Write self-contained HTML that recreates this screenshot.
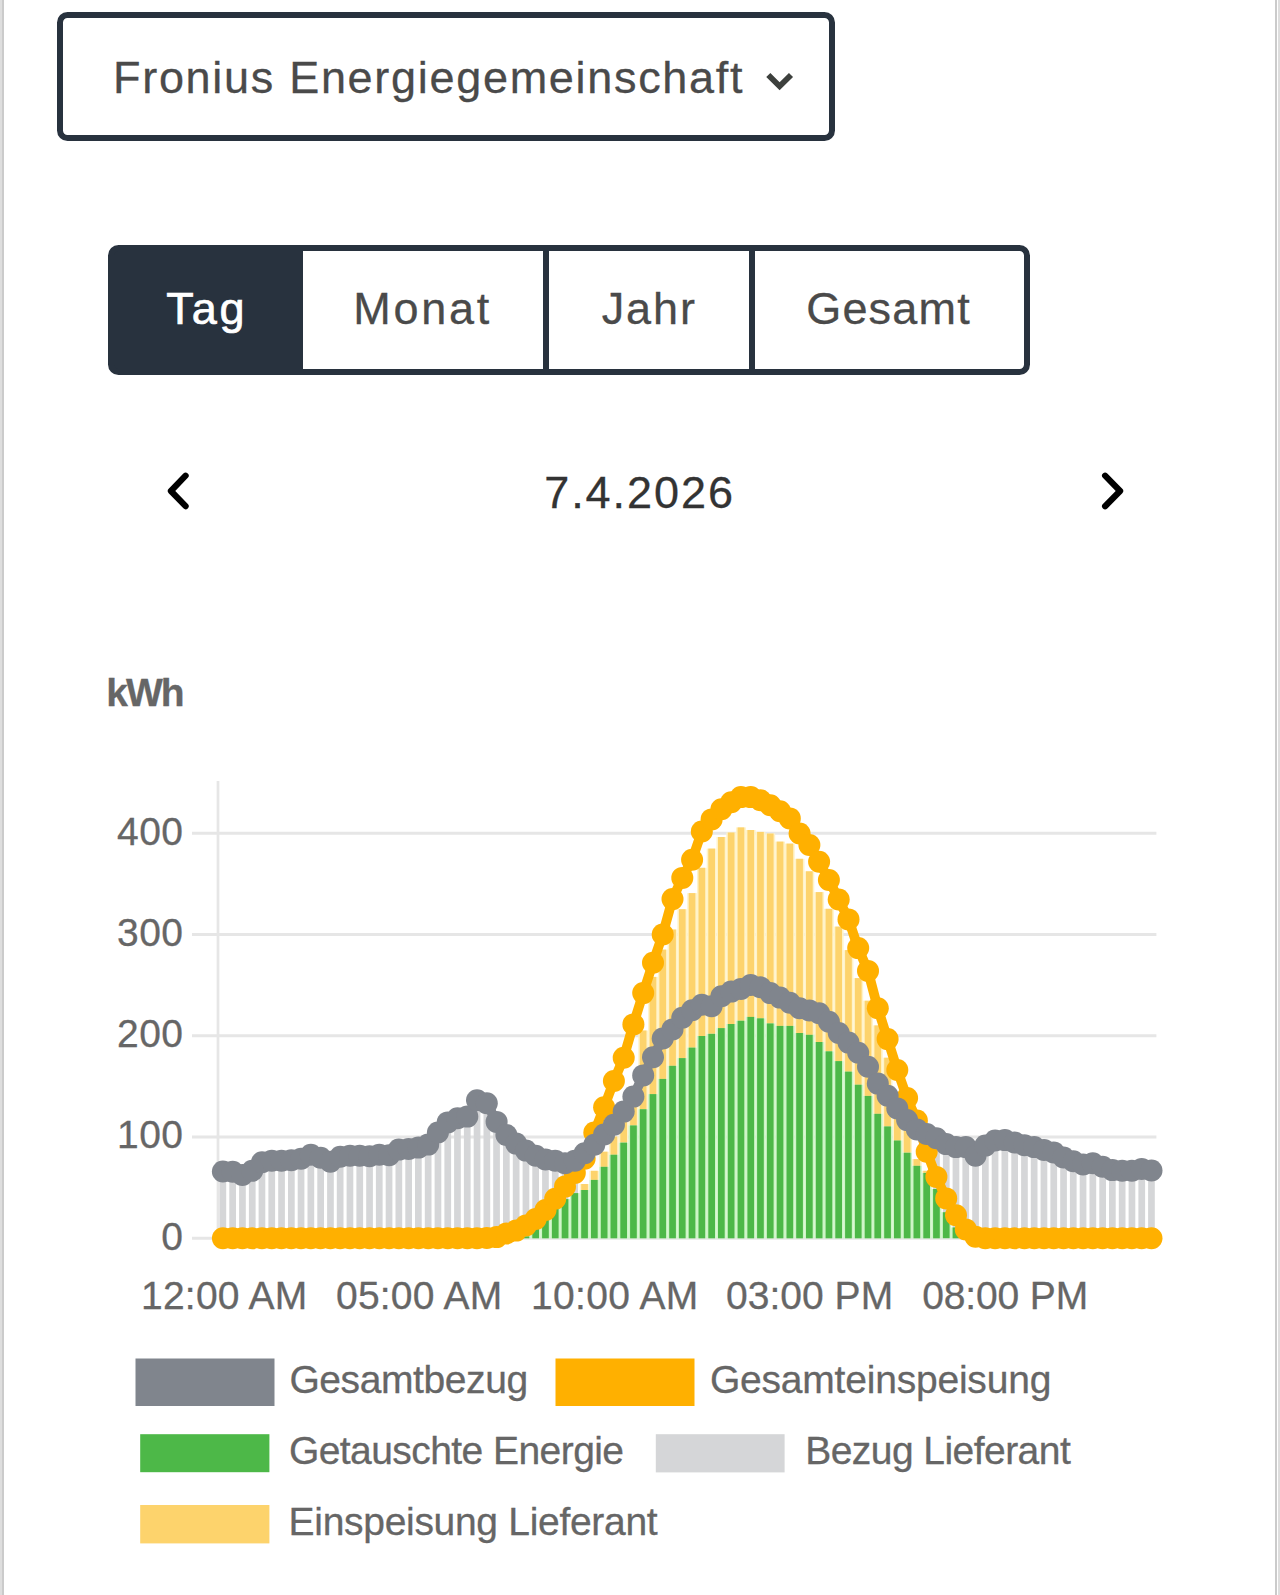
<!DOCTYPE html>
<html lang="de">
<head>
<meta charset="utf-8">
<title>Fronius Energiegemeinschaft</title>
<style>
html,body{margin:0;padding:0;background:#fff}
body{width:1280px;height:1595px;position:relative;overflow:hidden;font-family:"Liberation Sans",Arial,sans-serif}
.edge{position:absolute;top:0;height:1595px}
.e1{left:0;width:2px;background:#dedede}
.e2{left:2px;width:2.4px;background:#cbcbcb}
.e3{left:1275.1px;width:2.4px;background:#cbcbcb}
.e4{left:1277.5px;width:2.5px;background:#dedede}
.t{position:absolute;white-space:nowrap;display:block;-webkit-text-stroke:0.3px}
#t-tag{-webkit-text-stroke:0.7px}
.select{position:absolute;left:57px;top:12px;width:777.5px;height:128.5px;box-sizing:border-box;border:6px solid #28323e;border-radius:10.5px;background:#fff}
.tabs{position:absolute;left:107.5px;top:245px;width:923px;height:129.5px}
.tab{position:absolute;top:0;height:129.5px;box-sizing:border-box;border:6px solid #28323e;background:#fff}
.tab.a{background:#28323e;left:0;width:195.5px;border-radius:10.5px 0 0 10.5px}
.tab.b{left:189.5px;width:252.4px}
.tab.c{left:435.5px;width:211.7px}
.tab.d{left:641.1px;width:281.9px;border-radius:0 10.5px 10.5px 0}
svg.ic{position:absolute}
.datenav{position:absolute;left:0;top:440px;width:1280px;height:100px}
svg.chart{position:absolute;left:0;top:0}
#t-sel{left:50px;top:32.7px;font-size:45px;line-height:54.0px;letter-spacing:1.701px;color:#4a4a4a;font-weight:400}
#t-tag{left:52.7px;top:31.4px;font-size:45px;line-height:54.0px;letter-spacing:2.940px;color:#ffffff;font-weight:400}
#t-monat{left:50.3px;top:31.4px;font-size:45px;line-height:54.0px;letter-spacing:2.716px;color:#4a4a4a;font-weight:400}
#t-jahr{left:52.7px;top:31.4px;font-size:45px;line-height:54.0px;letter-spacing:1.936px;color:#4a4a4a;font-weight:400}
#t-gesamt{left:51.6px;top:31.4px;font-size:45px;line-height:54.0px;letter-spacing:1.190px;color:#4a4a4a;font-weight:400}
#t-date{left:544.2px;top:25.9px;font-size:45px;line-height:54.0px;letter-spacing:1.945px;color:#333333;font-weight:400}
#t-kwh{left:106.3px;top:669.6px;font-size:39px;line-height:46.8px;letter-spacing:-2.014px;color:#666666;font-weight:700}
#t-y400{left:117.1px;top:808.6px;font-size:39px;line-height:46.8px;letter-spacing:0.393px;color:#666666;font-weight:400}
#t-y300{left:117.1px;top:909.8px;font-size:39px;line-height:46.8px;letter-spacing:0.393px;color:#666666;font-weight:400}
#t-y200{left:117.1px;top:1011.1px;font-size:39px;line-height:46.8px;letter-spacing:0.393px;color:#666666;font-weight:400}
#t-y100{left:117.1px;top:1112.3px;font-size:39px;line-height:46.8px;letter-spacing:0.393px;color:#666666;font-weight:400}
#t-y0{left:161.3px;top:1213.6px;font-size:39px;line-height:46.8px;letter-spacing:0.000px;color:#666666;font-weight:400}
#t-x0{left:141px;top:1272.6px;font-size:39px;line-height:46.8px;letter-spacing:0.222px;color:#666666;font-weight:400}
#t-x1{left:336.1px;top:1272.6px;font-size:39px;line-height:46.8px;letter-spacing:0.188px;color:#666666;font-weight:400}
#t-x2{left:531px;top:1272.6px;font-size:39px;line-height:46.8px;letter-spacing:0.365px;color:#666666;font-weight:400}
#t-x3{left:726.1px;top:1272.6px;font-size:39px;line-height:46.8px;letter-spacing:0.016px;color:#666666;font-weight:400}
#t-x4{left:922.3px;top:1272.6px;font-size:39px;line-height:46.8px;letter-spacing:-0.154px;color:#666666;font-weight:400}
#t-l1{left:289.4px;top:1356.8px;font-size:39px;line-height:46.8px;letter-spacing:-0.405px;color:#666666;font-weight:400}
#t-l2{left:709.9px;top:1356.8px;font-size:39px;line-height:46.8px;letter-spacing:-0.204px;color:#666666;font-weight:400}
#t-l3{left:288.9px;top:1427.7px;font-size:39px;line-height:46.8px;letter-spacing:-0.562px;color:#666666;font-weight:400}
#t-l4{left:805.2px;top:1427.7px;font-size:39px;line-height:46.8px;letter-spacing:-0.546px;color:#666666;font-weight:400}
#t-l5{left:288.6px;top:1498.6px;font-size:39px;line-height:46.8px;letter-spacing:-0.304px;color:#666666;font-weight:400}
</style>
</head>
<body>
<div class="edge e1"></div><div class="edge e2"></div><div class="edge e3"></div><div class="edge e4"></div>
<div class="select"><span class="t" id="t-sel">Fronius Energiegemeinschaft</span><svg class="ic" width="40" height="30" viewBox="760 65 40 30" style="left:697px;top:47px" fill="none"><path d="M768.3 75L779.6 86.2L791 75" stroke="#3d403d" stroke-width="5.8" stroke-linejoin="miter"/></svg></div>
<div class="tabs"><div class="tab b"><span class="t" id="t-monat">Monat</span></div><div class="tab c"><span class="t" id="t-jahr">Jahr</span></div><div class="tab d"><span class="t" id="t-gesamt">Gesamt</span></div><div class="tab a"><span class="t" id="t-tag">Tag</span></div></div>
<div class="datenav">
<svg class="ic" width="40" height="50" viewBox="160 465 40 50" style="left:160px;top:25px" fill="none"><path d="M185.6 475.7L170.9 491L185.6 506.2" stroke="#000" stroke-width="6.2" stroke-linecap="round" stroke-linejoin="round"/></svg>
<span class="t" id="t-date">7.4.2026</span>
<svg class="ic" width="40" height="50" viewBox="1090 465 40 50" style="left:1090px;top:25px" fill="none"><path d="M1105.1 475.7L1120.1 491L1105.1 506.2" stroke="#000" stroke-width="6.2" stroke-linecap="round" stroke-linejoin="round"/></svg>
</div>
<div class="chartbox">
<span class="t" id="t-kwh">kWh</span>
<svg class="chart" width="1280" height="1595" viewBox="0 0 1280 1595">
<g stroke="#e6e6e6" stroke-width="3" fill="none">
<path d="M192 1238.3H1156.4"/>
<path d="M192 1137H1156.4"/>
<path d="M192 1035.8H1156.4"/>
<path d="M192 934.5H1156.4"/>
<path d="M192 833.3H1156.4"/>
<path d="M218 781V1240" stroke-width="2.7"/>
</g>
<g fill="#fff3c9">
<rect x="579.7" y="1184" width="9.8" height="6.1"/>
<rect x="589.4" y="1170.8" width="9.8" height="9.1"/>
<rect x="599.2" y="1151.7" width="9.8" height="15.1"/>
<rect x="609" y="1136.5" width="9.8" height="18.2"/>
<rect x="618.8" y="1111.2" width="9.8" height="31.3"/>
<rect x="628.5" y="1086" width="9.8" height="39.4"/>
<rect x="638.3" y="1030.5" width="9.8" height="78.8"/>
<rect x="648.1" y="976.9" width="9.8" height="117.2"/>
<rect x="657.9" y="949.6" width="9.8" height="129.3"/>
<rect x="667.6" y="929.5" width="9.8" height="136.3"/>
<rect x="677.4" y="909.2" width="9.8" height="148.9"/>
<rect x="687.2" y="893.1" width="9.8" height="154.5"/>
<rect x="697" y="867.8" width="9.8" height="168.2"/>
<rect x="706.7" y="848.6" width="9.8" height="185.1"/>
<rect x="716.5" y="837" width="9.8" height="191.1"/>
<rect x="726.3" y="832.5" width="9.8" height="191.5"/>
<rect x="736.1" y="827.4" width="9.8" height="193.2"/>
<rect x="745.8" y="830" width="9.8" height="187"/>
<rect x="755.6" y="831.9" width="9.8" height="186.4"/>
<rect x="765.4" y="833.5" width="9.8" height="189.9"/>
<rect x="775.2" y="841.6" width="9.8" height="184.3"/>
<rect x="784.9" y="843.6" width="9.8" height="182.3"/>
<rect x="794.7" y="858.8" width="9.8" height="174.2"/>
<rect x="804.5" y="871.3" width="9.8" height="163.5"/>
<rect x="814.3" y="892.1" width="9.8" height="149.9"/>
<rect x="824" y="908.8" width="9.8" height="142.4"/>
<rect x="833.8" y="926.6" width="9.8" height="134.4"/>
<rect x="843.6" y="950.1" width="9.8" height="121.5"/>
<rect x="853.4" y="978.1" width="9.8" height="106.6"/>
<rect x="863.1" y="1000.7" width="9.8" height="95.2"/>
<rect x="872.9" y="1025.4" width="9.8" height="88.4"/>
<rect x="882.7" y="1057.7" width="9.8" height="68.7"/>
<rect x="892.5" y="1092.6" width="9.8" height="48"/>
<rect x="902.2" y="1118.3" width="9.8" height="34.3"/>
<rect x="912" y="1159.1" width="9.8" height="6.7"/>
<rect x="921.8" y="1170.8" width="9.8" height="2"/>
</g>
<g fill="#cdf5c6">
<rect x="521" y="1236.3" width="9.8" height="2"/>
<rect x="530.8" y="1228.4" width="9.8" height="9.9"/>
<rect x="540.6" y="1217.3" width="9.8" height="21"/>
<rect x="550.3" y="1207.2" width="9.8" height="31.1"/>
<rect x="560.1" y="1199.1" width="9.8" height="39.2"/>
<rect x="569.9" y="1193.1" width="9.8" height="45.2"/>
<rect x="579.7" y="1190" width="9.8" height="48.3"/>
<rect x="589.4" y="1179.9" width="9.8" height="58.4"/>
<rect x="599.2" y="1166.8" width="9.8" height="71.5"/>
<rect x="609" y="1154.7" width="9.8" height="83.6"/>
<rect x="618.8" y="1142.6" width="9.8" height="95.7"/>
<rect x="628.5" y="1125.4" width="9.8" height="112.9"/>
<rect x="638.3" y="1109.2" width="9.8" height="129.1"/>
<rect x="648.1" y="1094.1" width="9.8" height="144.2"/>
<rect x="657.9" y="1078.9" width="9.8" height="159.4"/>
<rect x="667.6" y="1065.8" width="9.8" height="172.5"/>
<rect x="677.4" y="1058.1" width="9.8" height="180.2"/>
<rect x="687.2" y="1047.6" width="9.8" height="190.7"/>
<rect x="697" y="1036" width="9.8" height="202.3"/>
<rect x="706.7" y="1033.8" width="9.8" height="204.5"/>
<rect x="716.5" y="1028.1" width="9.8" height="210.2"/>
<rect x="726.3" y="1024" width="9.8" height="214.3"/>
<rect x="736.1" y="1020.7" width="9.8" height="217.6"/>
<rect x="745.8" y="1016.9" width="9.8" height="221.4"/>
<rect x="755.6" y="1018.3" width="9.8" height="220"/>
<rect x="765.4" y="1023.4" width="9.8" height="214.9"/>
<rect x="775.2" y="1025.9" width="9.8" height="212.4"/>
<rect x="784.9" y="1025.9" width="9.8" height="212.4"/>
<rect x="794.7" y="1033" width="9.8" height="205.3"/>
<rect x="804.5" y="1034.8" width="9.8" height="203.5"/>
<rect x="814.3" y="1042" width="9.8" height="196.3"/>
<rect x="824" y="1051.3" width="9.8" height="187"/>
<rect x="833.8" y="1061.1" width="9.8" height="177.2"/>
<rect x="843.6" y="1071.6" width="9.8" height="166.7"/>
<rect x="853.4" y="1084.7" width="9.8" height="153.6"/>
<rect x="863.1" y="1095.9" width="9.8" height="142.4"/>
<rect x="872.9" y="1113.8" width="9.8" height="124.5"/>
<rect x="882.7" y="1126.4" width="9.8" height="111.9"/>
<rect x="892.5" y="1140.5" width="9.8" height="97.8"/>
<rect x="902.2" y="1152.7" width="9.8" height="85.6"/>
<rect x="912" y="1165.8" width="9.8" height="72.5"/>
<rect x="921.8" y="1172.9" width="9.8" height="65.4"/>
<rect x="931.6" y="1189" width="9.8" height="49.3"/>
<rect x="941.3" y="1212.2" width="9.8" height="26"/>
<rect x="951.1" y="1227.4" width="9.8" height="10.9"/>
</g>
<g fill="#fdd36c">
<rect x="581.2" y="1184" width="6.7" height="6.1"/>
<rect x="591" y="1170.8" width="6.7" height="9.1"/>
<rect x="600.8" y="1151.7" width="6.7" height="15.1"/>
<rect x="610.5" y="1136.5" width="6.7" height="18.2"/>
<rect x="620.3" y="1111.2" width="6.7" height="31.3"/>
<rect x="630.1" y="1086" width="6.7" height="39.4"/>
<rect x="639.8" y="1030.5" width="6.7" height="78.8"/>
<rect x="649.6" y="976.9" width="6.7" height="117.2"/>
<rect x="659.4" y="949.6" width="6.7" height="129.3"/>
<rect x="669.2" y="929.5" width="6.7" height="136.3"/>
<rect x="678.9" y="909.2" width="6.7" height="148.9"/>
<rect x="688.7" y="893.1" width="6.7" height="154.5"/>
<rect x="698.5" y="867.8" width="6.7" height="168.2"/>
<rect x="708.3" y="848.6" width="6.7" height="185.1"/>
<rect x="718" y="837" width="6.7" height="191.1"/>
<rect x="727.8" y="832.5" width="6.7" height="191.5"/>
<rect x="737.6" y="827.4" width="6.7" height="193.2"/>
<rect x="747.4" y="830" width="6.7" height="187"/>
<rect x="757.1" y="831.9" width="6.7" height="186.4"/>
<rect x="766.9" y="833.5" width="6.7" height="189.9"/>
<rect x="776.7" y="841.6" width="6.7" height="184.3"/>
<rect x="786.5" y="843.6" width="6.7" height="182.3"/>
<rect x="796.2" y="858.8" width="6.7" height="174.2"/>
<rect x="806" y="871.3" width="6.7" height="163.5"/>
<rect x="815.8" y="892.1" width="6.7" height="149.9"/>
<rect x="825.6" y="908.8" width="6.7" height="142.4"/>
<rect x="835.3" y="926.6" width="6.7" height="134.4"/>
<rect x="845.1" y="950.1" width="6.7" height="121.5"/>
<rect x="854.9" y="978.1" width="6.7" height="106.6"/>
<rect x="864.7" y="1000.7" width="6.7" height="95.2"/>
<rect x="874.4" y="1025.4" width="6.7" height="88.4"/>
<rect x="884.2" y="1057.7" width="6.7" height="68.7"/>
<rect x="894" y="1092.6" width="6.7" height="48"/>
<rect x="903.8" y="1118.3" width="6.7" height="34.3"/>
<rect x="913.5" y="1159.1" width="6.7" height="6.7"/>
<rect x="923.3" y="1170.8" width="6.7" height="2"/>
</g>
<g fill="#d5d6d8">
<rect x="219.5" y="1171.5" width="6.7" height="66.8"/>
<rect x="229.3" y="1171.8" width="6.7" height="66.5"/>
<rect x="239.1" y="1174.9" width="6.7" height="63.4"/>
<rect x="248.9" y="1170.8" width="6.7" height="67.5"/>
<rect x="258.6" y="1162.3" width="6.7" height="76"/>
<rect x="268.4" y="1160.7" width="6.7" height="77.6"/>
<rect x="278.2" y="1160.7" width="6.7" height="77.6"/>
<rect x="288" y="1160.2" width="6.7" height="78.1"/>
<rect x="297.7" y="1158.7" width="6.7" height="79.6"/>
<rect x="307.5" y="1154.7" width="6.7" height="83.6"/>
<rect x="317.3" y="1157.7" width="6.7" height="80.6"/>
<rect x="327.1" y="1161.8" width="6.7" height="76.5"/>
<rect x="336.8" y="1156.7" width="6.7" height="81.6"/>
<rect x="346.6" y="1155.7" width="6.7" height="82.6"/>
<rect x="356.4" y="1155.7" width="6.7" height="82.6"/>
<rect x="366.2" y="1156.2" width="6.7" height="82.1"/>
<rect x="375.9" y="1154.7" width="6.7" height="83.6"/>
<rect x="385.7" y="1155.2" width="6.7" height="83.1"/>
<rect x="395.5" y="1149.6" width="6.7" height="88.7"/>
<rect x="405.3" y="1148.9" width="6.7" height="89.4"/>
<rect x="415" y="1147.6" width="6.7" height="90.7"/>
<rect x="424.8" y="1144.6" width="6.7" height="93.7"/>
<rect x="434.6" y="1132.5" width="6.7" height="105.8"/>
<rect x="444.4" y="1122.4" width="6.7" height="115.9"/>
<rect x="454.1" y="1118.3" width="6.7" height="120"/>
<rect x="463.9" y="1116.6" width="6.7" height="121.7"/>
<rect x="473.7" y="1100.3" width="6.7" height="138"/>
<rect x="483.5" y="1103.2" width="6.7" height="135.1"/>
<rect x="493.2" y="1121.9" width="6.7" height="116.4"/>
<rect x="503" y="1135" width="6.7" height="103.3"/>
<rect x="512.8" y="1143.6" width="6.7" height="94.7"/>
<rect x="522.6" y="1150.6" width="6.7" height="85.6"/>
<rect x="532.3" y="1155.7" width="6.7" height="72.7"/>
<rect x="542.1" y="1159.4" width="6.7" height="57.9"/>
<rect x="551.9" y="1160.8" width="6.7" height="46.4"/>
<rect x="561.7" y="1163.2" width="6.7" height="36"/>
<rect x="571.4" y="1160.7" width="6.7" height="32.3"/>
<rect x="933.1" y="1138.2" width="6.7" height="50.8"/>
<rect x="942.9" y="1144.1" width="6.7" height="68.2"/>
<rect x="952.6" y="1147.1" width="6.7" height="80.3"/>
<rect x="962.4" y="1147.1" width="6.7" height="91.2"/>
<rect x="972.2" y="1155.7" width="6.7" height="82.6"/>
<rect x="982" y="1145.6" width="6.7" height="92.7"/>
<rect x="991.7" y="1140.5" width="6.7" height="97.8"/>
<rect x="1001.5" y="1140.1" width="6.7" height="98.2"/>
<rect x="1011.3" y="1142.4" width="6.7" height="95.9"/>
<rect x="1021.1" y="1145.2" width="6.7" height="93.1"/>
<rect x="1030.8" y="1147.1" width="6.7" height="91.2"/>
<rect x="1040.6" y="1149.9" width="6.7" height="88.4"/>
<rect x="1050.4" y="1152.4" width="6.7" height="85.9"/>
<rect x="1060.2" y="1157.5" width="6.7" height="80.8"/>
<rect x="1069.9" y="1161.2" width="6.7" height="77.1"/>
<rect x="1079.7" y="1164.4" width="6.7" height="73.9"/>
<rect x="1089.5" y="1163.3" width="6.7" height="75"/>
<rect x="1099.3" y="1166.8" width="6.7" height="71.5"/>
<rect x="1109" y="1170.1" width="6.7" height="68.2"/>
<rect x="1118.8" y="1170.8" width="6.7" height="67.5"/>
<rect x="1128.6" y="1170.8" width="6.7" height="67.5"/>
<rect x="1138.4" y="1169" width="6.7" height="69.3"/>
<rect x="1148.1" y="1170.5" width="6.7" height="67.8"/>
</g>
<g fill="#4db848">
<rect x="522.6" y="1236.3" width="6.7" height="2"/>
<rect x="532.3" y="1228.4" width="6.7" height="9.9"/>
<rect x="542.1" y="1217.3" width="6.7" height="21"/>
<rect x="551.9" y="1207.2" width="6.7" height="31.1"/>
<rect x="561.7" y="1199.1" width="6.7" height="39.2"/>
<rect x="571.4" y="1193.1" width="6.7" height="45.2"/>
<rect x="581.2" y="1190" width="6.7" height="48.3"/>
<rect x="591" y="1179.9" width="6.7" height="58.4"/>
<rect x="600.8" y="1166.8" width="6.7" height="71.5"/>
<rect x="610.5" y="1154.7" width="6.7" height="83.6"/>
<rect x="620.3" y="1142.6" width="6.7" height="95.7"/>
<rect x="630.1" y="1125.4" width="6.7" height="112.9"/>
<rect x="639.8" y="1109.2" width="6.7" height="129.1"/>
<rect x="649.6" y="1094.1" width="6.7" height="144.2"/>
<rect x="659.4" y="1078.9" width="6.7" height="159.4"/>
<rect x="669.2" y="1065.8" width="6.7" height="172.5"/>
<rect x="678.9" y="1058.1" width="6.7" height="180.2"/>
<rect x="688.7" y="1047.6" width="6.7" height="190.7"/>
<rect x="698.5" y="1036" width="6.7" height="202.3"/>
<rect x="708.3" y="1033.8" width="6.7" height="204.5"/>
<rect x="718" y="1028.1" width="6.7" height="210.2"/>
<rect x="727.8" y="1024" width="6.7" height="214.3"/>
<rect x="737.6" y="1020.7" width="6.7" height="217.6"/>
<rect x="747.4" y="1016.9" width="6.7" height="221.4"/>
<rect x="757.1" y="1018.3" width="6.7" height="220"/>
<rect x="766.9" y="1023.4" width="6.7" height="214.9"/>
<rect x="776.7" y="1025.9" width="6.7" height="212.4"/>
<rect x="786.5" y="1025.9" width="6.7" height="212.4"/>
<rect x="796.2" y="1033" width="6.7" height="205.3"/>
<rect x="806" y="1034.8" width="6.7" height="203.5"/>
<rect x="815.8" y="1042" width="6.7" height="196.3"/>
<rect x="825.6" y="1051.3" width="6.7" height="187"/>
<rect x="835.3" y="1061.1" width="6.7" height="177.2"/>
<rect x="845.1" y="1071.6" width="6.7" height="166.7"/>
<rect x="854.9" y="1084.7" width="6.7" height="153.6"/>
<rect x="864.7" y="1095.9" width="6.7" height="142.4"/>
<rect x="874.4" y="1113.8" width="6.7" height="124.5"/>
<rect x="884.2" y="1126.4" width="6.7" height="111.9"/>
<rect x="894" y="1140.5" width="6.7" height="97.8"/>
<rect x="903.8" y="1152.7" width="6.7" height="85.6"/>
<rect x="913.5" y="1165.8" width="6.7" height="72.5"/>
<rect x="923.3" y="1172.9" width="6.7" height="65.4"/>
<rect x="933.1" y="1189" width="6.7" height="49.3"/>
<rect x="942.9" y="1212.2" width="6.7" height="26"/>
<rect x="952.6" y="1227.4" width="6.7" height="10.9"/>
</g>
<g fill="#ffb000" stroke="none">
<polyline points="222.9,1238.3 232.7,1238.3 242.4,1238.3 252.2,1238.3 262,1238.3 271.8,1238.3 281.5,1238.3 291.3,1238.3 301.1,1238.3 310.9,1238.3 320.6,1238.3 330.4,1238.3 340.2,1238.3 350,1238.3 359.7,1238.3 369.5,1238.3 379.3,1238.3 389.1,1238.3 398.8,1238.3 408.6,1238.3 418.4,1238.3 428.2,1238.3 437.9,1238.3 447.7,1238.3 457.5,1238.3 467.3,1238.3 477,1238.3 486.8,1238 496.6,1237.1 506.4,1233.5 516.1,1230.6 525.9,1225.4 535.7,1219 545.5,1210 555.2,1198.7 565,1186.6 574.8,1172.9 584.6,1158.7 594.3,1132.5 604.1,1107.2 613.9,1081 623.7,1057.7 633.4,1024.4 643.2,993.1 653,962.8 662.7,934.5 672.5,899.1 682.3,877.9 692.1,859.8 701.8,831.5 711.6,819.4 721.4,809.3 731.2,802.2 740.9,797.1 750.7,797.1 760.5,800.2 770.3,805.2 780,811.3 789.8,818.4 799.6,833.5 809.4,845 819.1,861.8 828.9,880 838.7,899.5 848.5,919.4 858.2,948.1 868,970.9 877.8,1008.2 887.6,1039.1 897.3,1070 907.1,1098.1 916.9,1120.6 926.7,1151.7 936.4,1176.9 946.2,1198.4 956,1215.3 965.8,1229.4 975.5,1236.8 985.3,1238.3 995.1,1238.3 1004.9,1238.3 1014.6,1238.3 1024.4,1238.3 1034.2,1238.3 1044,1238.3 1053.7,1238.3 1063.5,1238.3 1073.3,1238.3 1083.1,1238.3 1092.8,1238.3 1102.6,1238.3 1112.4,1238.3 1122.2,1238.3 1131.9,1238.3 1141.7,1238.3 1151.5,1238.3" fill="none" stroke="#ffb000" stroke-width="9.75" stroke-linejoin="round" stroke-linecap="round"/>
<circle cx="222.9" cy="1238.3" r="11"/>
<circle cx="232.7" cy="1238.3" r="11"/>
<circle cx="242.4" cy="1238.3" r="11"/>
<circle cx="252.2" cy="1238.3" r="11"/>
<circle cx="262" cy="1238.3" r="11"/>
<circle cx="271.8" cy="1238.3" r="11"/>
<circle cx="281.5" cy="1238.3" r="11"/>
<circle cx="291.3" cy="1238.3" r="11"/>
<circle cx="301.1" cy="1238.3" r="11"/>
<circle cx="310.9" cy="1238.3" r="11"/>
<circle cx="320.6" cy="1238.3" r="11"/>
<circle cx="330.4" cy="1238.3" r="11"/>
<circle cx="340.2" cy="1238.3" r="11"/>
<circle cx="350" cy="1238.3" r="11"/>
<circle cx="359.7" cy="1238.3" r="11"/>
<circle cx="369.5" cy="1238.3" r="11"/>
<circle cx="379.3" cy="1238.3" r="11"/>
<circle cx="389.1" cy="1238.3" r="11"/>
<circle cx="398.8" cy="1238.3" r="11"/>
<circle cx="408.6" cy="1238.3" r="11"/>
<circle cx="418.4" cy="1238.3" r="11"/>
<circle cx="428.2" cy="1238.3" r="11"/>
<circle cx="437.9" cy="1238.3" r="11"/>
<circle cx="447.7" cy="1238.3" r="11"/>
<circle cx="457.5" cy="1238.3" r="11"/>
<circle cx="467.3" cy="1238.3" r="11"/>
<circle cx="477" cy="1238.3" r="11"/>
<circle cx="486.8" cy="1238" r="11"/>
<circle cx="496.6" cy="1237.1" r="11"/>
<circle cx="506.4" cy="1233.5" r="11"/>
<circle cx="516.1" cy="1230.6" r="11"/>
<circle cx="525.9" cy="1225.4" r="11"/>
<circle cx="535.7" cy="1219" r="11"/>
<circle cx="545.5" cy="1210" r="11"/>
<circle cx="555.2" cy="1198.7" r="11"/>
<circle cx="565" cy="1186.6" r="11"/>
<circle cx="574.8" cy="1172.9" r="11"/>
<circle cx="584.6" cy="1158.7" r="11"/>
<circle cx="594.3" cy="1132.5" r="11"/>
<circle cx="604.1" cy="1107.2" r="11"/>
<circle cx="613.9" cy="1081" r="11"/>
<circle cx="623.7" cy="1057.7" r="11"/>
<circle cx="633.4" cy="1024.4" r="11"/>
<circle cx="643.2" cy="993.1" r="11"/>
<circle cx="653" cy="962.8" r="11"/>
<circle cx="662.7" cy="934.5" r="11"/>
<circle cx="672.5" cy="899.1" r="11"/>
<circle cx="682.3" cy="877.9" r="11"/>
<circle cx="692.1" cy="859.8" r="11"/>
<circle cx="701.8" cy="831.5" r="11"/>
<circle cx="711.6" cy="819.4" r="11"/>
<circle cx="721.4" cy="809.3" r="11"/>
<circle cx="731.2" cy="802.2" r="11"/>
<circle cx="740.9" cy="797.1" r="11"/>
<circle cx="750.7" cy="797.1" r="11"/>
<circle cx="760.5" cy="800.2" r="11"/>
<circle cx="770.3" cy="805.2" r="11"/>
<circle cx="780" cy="811.3" r="11"/>
<circle cx="789.8" cy="818.4" r="11"/>
<circle cx="799.6" cy="833.5" r="11"/>
<circle cx="809.4" cy="845" r="11"/>
<circle cx="819.1" cy="861.8" r="11"/>
<circle cx="828.9" cy="880" r="11"/>
<circle cx="838.7" cy="899.5" r="11"/>
<circle cx="848.5" cy="919.4" r="11"/>
<circle cx="858.2" cy="948.1" r="11"/>
<circle cx="868" cy="970.9" r="11"/>
<circle cx="877.8" cy="1008.2" r="11"/>
<circle cx="887.6" cy="1039.1" r="11"/>
<circle cx="897.3" cy="1070" r="11"/>
<circle cx="907.1" cy="1098.1" r="11"/>
<circle cx="916.9" cy="1120.6" r="11"/>
<circle cx="926.7" cy="1151.7" r="11"/>
<circle cx="936.4" cy="1176.9" r="11"/>
<circle cx="946.2" cy="1198.4" r="11"/>
<circle cx="956" cy="1215.3" r="11"/>
<circle cx="965.8" cy="1229.4" r="11"/>
<circle cx="975.5" cy="1236.8" r="11"/>
<circle cx="985.3" cy="1238.3" r="11"/>
<circle cx="995.1" cy="1238.3" r="11"/>
<circle cx="1004.9" cy="1238.3" r="11"/>
<circle cx="1014.6" cy="1238.3" r="11"/>
<circle cx="1024.4" cy="1238.3" r="11"/>
<circle cx="1034.2" cy="1238.3" r="11"/>
<circle cx="1044" cy="1238.3" r="11"/>
<circle cx="1053.7" cy="1238.3" r="11"/>
<circle cx="1063.5" cy="1238.3" r="11"/>
<circle cx="1073.3" cy="1238.3" r="11"/>
<circle cx="1083.1" cy="1238.3" r="11"/>
<circle cx="1092.8" cy="1238.3" r="11"/>
<circle cx="1102.6" cy="1238.3" r="11"/>
<circle cx="1112.4" cy="1238.3" r="11"/>
<circle cx="1122.2" cy="1238.3" r="11"/>
<circle cx="1131.9" cy="1238.3" r="11"/>
<circle cx="1141.7" cy="1238.3" r="11"/>
<circle cx="1151.5" cy="1238.3" r="11"/>
</g>
<g fill="#80858d" stroke="none">
<polyline points="222.9,1171.5 232.7,1171.8 242.4,1174.9 252.2,1170.8 262,1162.3 271.8,1160.7 281.5,1160.7 291.3,1160.2 301.1,1158.7 310.9,1154.7 320.6,1157.7 330.4,1161.8 340.2,1156.7 350,1155.7 359.7,1155.7 369.5,1156.2 379.3,1154.7 389.1,1155.2 398.8,1149.6 408.6,1148.9 418.4,1147.6 428.2,1144.6 437.9,1132.5 447.7,1122.4 457.5,1118.3 467.3,1116.6 477,1100.3 486.8,1103.2 496.6,1121.9 506.4,1135 516.1,1143.6 525.9,1150.6 535.7,1155.7 545.5,1159.4 555.2,1160.8 565,1163.2 574.8,1160.7 584.6,1153.2 594.3,1144.8 604.1,1134.5 613.9,1124.7 623.7,1111.6 633.4,1096.6 643.2,1075.4 653,1057.2 662.7,1038.5 672.5,1029.4 682.3,1017.8 692.1,1010.2 701.8,1004.7 711.6,1006.2 721.4,996.3 731.2,991.6 740.9,989 750.7,985 760.5,987.3 770.3,993.1 780,997.6 789.8,1002.7 799.6,1008.2 809.4,1010.5 819.1,1013.3 828.9,1021.7 838.7,1033 848.5,1042.6 858.2,1052.7 868,1066.8 877.8,1083.6 887.6,1095.7 897.3,1108.4 907.1,1120.1 916.9,1129.4 926.7,1134 936.4,1138.2 946.2,1144.1 956,1147.1 965.8,1147.1 975.5,1155.7 985.3,1145.6 995.1,1140.5 1004.9,1140.1 1014.6,1142.4 1024.4,1145.2 1034.2,1147.1 1044,1149.9 1053.7,1152.4 1063.5,1157.5 1073.3,1161.2 1083.1,1164.4 1092.8,1163.3 1102.6,1166.8 1112.4,1170.1 1122.2,1170.8 1131.9,1170.8 1141.7,1169 1151.5,1170.5" fill="none" stroke="#80858d" stroke-width="9.75" stroke-linejoin="round" stroke-linecap="round"/>
<circle cx="222.9" cy="1171.5" r="11"/>
<circle cx="232.7" cy="1171.8" r="11"/>
<circle cx="242.4" cy="1174.9" r="11"/>
<circle cx="252.2" cy="1170.8" r="11"/>
<circle cx="262" cy="1162.3" r="11"/>
<circle cx="271.8" cy="1160.7" r="11"/>
<circle cx="281.5" cy="1160.7" r="11"/>
<circle cx="291.3" cy="1160.2" r="11"/>
<circle cx="301.1" cy="1158.7" r="11"/>
<circle cx="310.9" cy="1154.7" r="11"/>
<circle cx="320.6" cy="1157.7" r="11"/>
<circle cx="330.4" cy="1161.8" r="11"/>
<circle cx="340.2" cy="1156.7" r="11"/>
<circle cx="350" cy="1155.7" r="11"/>
<circle cx="359.7" cy="1155.7" r="11"/>
<circle cx="369.5" cy="1156.2" r="11"/>
<circle cx="379.3" cy="1154.7" r="11"/>
<circle cx="389.1" cy="1155.2" r="11"/>
<circle cx="398.8" cy="1149.6" r="11"/>
<circle cx="408.6" cy="1148.9" r="11"/>
<circle cx="418.4" cy="1147.6" r="11"/>
<circle cx="428.2" cy="1144.6" r="11"/>
<circle cx="437.9" cy="1132.5" r="11"/>
<circle cx="447.7" cy="1122.4" r="11"/>
<circle cx="457.5" cy="1118.3" r="11"/>
<circle cx="467.3" cy="1116.6" r="11"/>
<circle cx="477" cy="1100.3" r="11"/>
<circle cx="486.8" cy="1103.2" r="11"/>
<circle cx="496.6" cy="1121.9" r="11"/>
<circle cx="506.4" cy="1135" r="11"/>
<circle cx="516.1" cy="1143.6" r="11"/>
<circle cx="525.9" cy="1150.6" r="11"/>
<circle cx="535.7" cy="1155.7" r="11"/>
<circle cx="545.5" cy="1159.4" r="11"/>
<circle cx="555.2" cy="1160.8" r="11"/>
<circle cx="565" cy="1163.2" r="11"/>
<circle cx="574.8" cy="1160.7" r="11"/>
<circle cx="584.6" cy="1153.2" r="11"/>
<circle cx="594.3" cy="1144.8" r="11"/>
<circle cx="604.1" cy="1134.5" r="11"/>
<circle cx="613.9" cy="1124.7" r="11"/>
<circle cx="623.7" cy="1111.6" r="11"/>
<circle cx="633.4" cy="1096.6" r="11"/>
<circle cx="643.2" cy="1075.4" r="11"/>
<circle cx="653" cy="1057.2" r="11"/>
<circle cx="662.7" cy="1038.5" r="11"/>
<circle cx="672.5" cy="1029.4" r="11"/>
<circle cx="682.3" cy="1017.8" r="11"/>
<circle cx="692.1" cy="1010.2" r="11"/>
<circle cx="701.8" cy="1004.7" r="11"/>
<circle cx="711.6" cy="1006.2" r="11"/>
<circle cx="721.4" cy="996.3" r="11"/>
<circle cx="731.2" cy="991.6" r="11"/>
<circle cx="740.9" cy="989" r="11"/>
<circle cx="750.7" cy="985" r="11"/>
<circle cx="760.5" cy="987.3" r="11"/>
<circle cx="770.3" cy="993.1" r="11"/>
<circle cx="780" cy="997.6" r="11"/>
<circle cx="789.8" cy="1002.7" r="11"/>
<circle cx="799.6" cy="1008.2" r="11"/>
<circle cx="809.4" cy="1010.5" r="11"/>
<circle cx="819.1" cy="1013.3" r="11"/>
<circle cx="828.9" cy="1021.7" r="11"/>
<circle cx="838.7" cy="1033" r="11"/>
<circle cx="848.5" cy="1042.6" r="11"/>
<circle cx="858.2" cy="1052.7" r="11"/>
<circle cx="868" cy="1066.8" r="11"/>
<circle cx="877.8" cy="1083.6" r="11"/>
<circle cx="887.6" cy="1095.7" r="11"/>
<circle cx="897.3" cy="1108.4" r="11"/>
<circle cx="907.1" cy="1120.1" r="11"/>
<circle cx="916.9" cy="1129.4" r="11"/>
<circle cx="926.7" cy="1134" r="11"/>
<circle cx="936.4" cy="1138.2" r="11"/>
<circle cx="946.2" cy="1144.1" r="11"/>
<circle cx="956" cy="1147.1" r="11"/>
<circle cx="965.8" cy="1147.1" r="11"/>
<circle cx="975.5" cy="1155.7" r="11"/>
<circle cx="985.3" cy="1145.6" r="11"/>
<circle cx="995.1" cy="1140.5" r="11"/>
<circle cx="1004.9" cy="1140.1" r="11"/>
<circle cx="1014.6" cy="1142.4" r="11"/>
<circle cx="1024.4" cy="1145.2" r="11"/>
<circle cx="1034.2" cy="1147.1" r="11"/>
<circle cx="1044" cy="1149.9" r="11"/>
<circle cx="1053.7" cy="1152.4" r="11"/>
<circle cx="1063.5" cy="1157.5" r="11"/>
<circle cx="1073.3" cy="1161.2" r="11"/>
<circle cx="1083.1" cy="1164.4" r="11"/>
<circle cx="1092.8" cy="1163.3" r="11"/>
<circle cx="1102.6" cy="1166.8" r="11"/>
<circle cx="1112.4" cy="1170.1" r="11"/>
<circle cx="1122.2" cy="1170.8" r="11"/>
<circle cx="1131.9" cy="1170.8" r="11"/>
<circle cx="1141.7" cy="1169" r="11"/>
<circle cx="1151.5" cy="1170.5" r="11"/>
</g>
<rect x="135.5" y="1358.5" width="139" height="47.5" fill="#80858d"/>
<rect x="555.5" y="1358.5" width="139" height="47.5" fill="#ffb000"/>
<rect x="140.2" y="1434.2" width="129.2" height="38" fill="#4db848"/>
<rect x="655.8" y="1434.2" width="128.8" height="38.2" fill="#d5d6d8"/>
<rect x="140.2" y="1505" width="129.2" height="38.4" fill="#fdd36c"/>
</svg>
<div class="yaxis"><span class="t" id="t-y400">400</span><span class="t" id="t-y300">300</span><span class="t" id="t-y200">200</span><span class="t" id="t-y100">100</span><span class="t" id="t-y0">0</span></div>
<div class="xaxis"><span class="t" id="t-x0">12:00 AM</span><span class="t" id="t-x1">05:00 AM</span><span class="t" id="t-x2">10:00 AM</span><span class="t" id="t-x3">03:00 PM</span><span class="t" id="t-x4">08:00 PM</span></div>
<div class="legend"><span class="t" id="t-l1">Gesamtbezug</span><span class="t" id="t-l2">Gesamteinspeisung</span><span class="t" id="t-l3">Getauschte Energie</span><span class="t" id="t-l4">Bezug Lieferant</span><span class="t" id="t-l5">Einspeisung Lieferant</span></div>
</div>
</body>
</html>
